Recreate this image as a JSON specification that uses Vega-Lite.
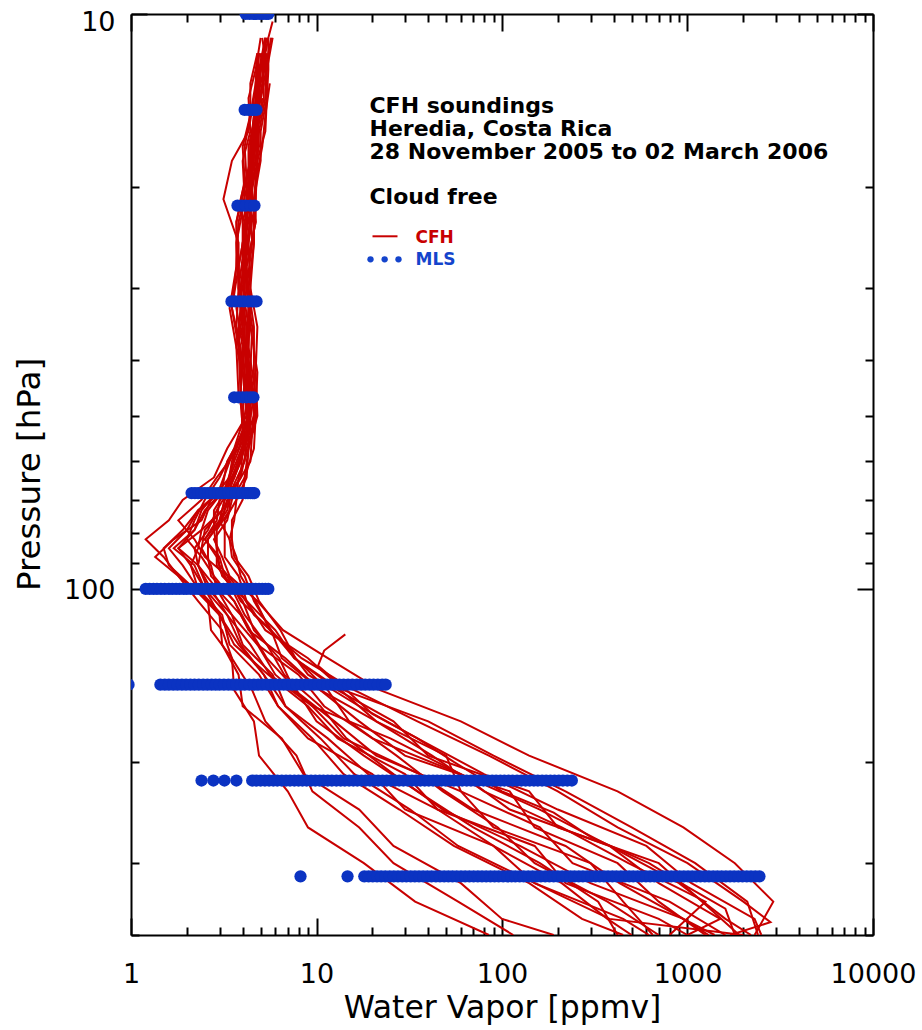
{
"$schema":"https://vega.github.io/schema/vega-lite/v6.json",
"width":742,"height":921,
"autosize":{"type":"none"},
"padding":{"left":131,"top":14,"right":49,"bottom":95},
"background":"white",
"config":{"view":{"stroke":null},"font":"DejaVu Sans",
"axis":{"labelFont":"DejaVu Sans","titleFont":"DejaVu Sans","labelColor":"#000","titleColor":"#000","domainColor":"#000","tickColor":"#000","domainWidth":2,"tickWidth":2,"grid":false,"labelFontSize":27,"titleFontWeight":"normal","zindex":1,"labelFlush":false,"labelOverlap":false,"labelBound":false}},
"datasets":{
"cfh":[
{"id":1,"p":11,"w":5.4},{"id":1,"p":12.5,"w":5.0},{"id":1,"p":14,"w":4.9},{"id":1,"p":16,"w":4.5},{"id":1,"p":18,"w":4.4},{"id":1,"p":21,"w":3.9},{"id":1,"p":25,"w":4.1},{"id":1,"p":30,"w":3.8},{"id":1,"p":35,"w":4.1},{"id":1,"p":42,"w":4.0},{"id":1,"p":50,"w":4.2},{"id":1,"p":57,"w":3.3},{"id":1,"p":64,"w":2.8},{"id":1,"p":70,"w":1.9},{"id":1,"p":76,"w":1.6},{"id":1,"p":82,"w":1.2},{"id":1,"p":88,"w":1.5},{"id":1,"p":95,"w":1.8},{"id":1,"p":105,"w":2.6},{"id":1,"p":118,"w":2.7},{"id":1,"p":132,"w":3.5},{"id":1,"p":150,"w":3.6},{"id":1,"p":170,"w":4.6},{"id":1,"p":195,"w":4.9},{"id":1,"p":225,"w":7.0},{"id":1,"p":260,"w":9},{"id":1,"p":300,"w":18},{"id":1,"p":350,"w":34},{"id":1,"p":400,"w":85},
{"id":2,"p":11.7,"w":4.9},{"id":2,"p":13.2,"w":4.8},{"id":2,"p":15,"w":4.6},{"id":2,"p":17,"w":4.7},{"id":2,"p":19.5,"w":4.3},{"id":2,"p":23,"w":4.2},{"id":2,"p":27.5,"w":3.8},{"id":2,"p":32.5,"w":3.9},{"id":2,"p":38,"w":3.7},{"id":2,"p":46,"w":4.3},{"id":2,"p":53,"w":4.3},{"id":2,"p":60,"w":3.7},{"id":2,"p":67,"w":3.2},{"id":2,"p":73,"w":2.3},{"id":2,"p":79,"w":1.9},{"id":2,"p":85,"w":1.5},{"id":2,"p":91,"w":1.6},{"id":2,"p":100,"w":2.2},{"id":2,"p":111,"w":3.0},{"id":2,"p":125,"w":3.6},{"id":2,"p":141,"w":5.5},{"id":2,"p":160,"w":9},{"id":2,"p":182,"w":13},{"id":2,"p":210,"w":30},{"id":2,"p":242,"w":45},{"id":2,"p":280,"w":150},{"id":2,"p":325,"w":220},{"id":2,"p":375,"w":700},{"id":2,"p":400,"w":1000},
{"id":3,"p":11,"w":5.7},{"id":3,"p":12.5,"w":5.3},{"id":3,"p":14,"w":5.3},{"id":3,"p":16,"w":4.9},{"id":3,"p":18,"w":4.8},{"id":3,"p":21,"w":4.6},{"id":3,"p":25,"w":4.6},{"id":3,"p":30,"w":4.3},{"id":3,"p":35,"w":4.6},{"id":3,"p":42,"w":4.6},{"id":3,"p":50,"w":4.7},{"id":3,"p":57,"w":4.2},{"id":3,"p":64,"w":3.9},{"id":3,"p":70,"w":3.2},{"id":3,"p":76,"w":3.0},{"id":3,"p":82,"w":2.5},{"id":3,"p":88,"w":2.9},{"id":3,"p":95,"w":3.1},{"id":3,"p":105,"w":4.2},{"id":3,"p":118,"w":5.3},{"id":3,"p":132,"w":9},{"id":3,"p":150,"w":14},{"id":3,"p":170,"w":40},{"id":3,"p":195,"w":90},{"id":3,"p":225,"w":220},{"id":3,"p":260,"w":500},{"id":3,"p":300,"w":1100},{"id":3,"p":350,"w":2100},{"id":3,"p":400,"w":2400},
{"id":4,"p":11.7,"w":4.8},{"id":4,"p":13.2,"w":4.7},{"id":4,"p":15,"w":4.4},{"id":4,"p":17,"w":4.1},{"id":4,"p":19.5,"w":4.2},{"id":4,"p":23,"w":3.7},{"id":4,"p":27.5,"w":3.8},{"id":4,"p":32.5,"w":3.5},{"id":4,"p":38,"w":3.8},{"id":4,"p":46,"w":3.9},{"id":4,"p":53,"w":4.1},{"id":4,"p":60,"w":3.3},{"id":4,"p":67,"w":3.1},{"id":4,"p":73,"w":2.3},{"id":4,"p":79,"w":2.0},{"id":4,"p":85,"w":1.6},{"id":4,"p":91,"w":1.9},{"id":4,"p":100,"w":2.3},{"id":4,"p":111,"w":3.1},{"id":4,"p":125,"w":3.4},{"id":4,"p":141,"w":4.9},{"id":4,"p":160,"w":6.2},{"id":4,"p":182,"w":9},{"id":4,"p":210,"w":20},{"id":4,"p":242,"w":30},{"id":4,"p":280,"w":90},{"id":4,"p":325,"w":150},{"id":4,"p":375,"w":450},{"id":4,"p":400,"w":620},
{"id":5,"p":11,"w":5.1},{"id":5,"p":12.5,"w":5.4},{"id":5,"p":14,"w":4.9},{"id":5,"p":16,"w":4.8},{"id":5,"p":18,"w":4.5},{"id":5,"p":21,"w":4.5},{"id":5,"p":25,"w":4.1},{"id":5,"p":30,"w":4.2},{"id":5,"p":35,"w":3.9},{"id":5,"p":42,"w":4.3},{"id":5,"p":50,"w":4.3},{"id":5,"p":57,"w":4.3},{"id":5,"p":64,"w":3.8},{"id":5,"p":70,"w":3.7},{"id":5,"p":76,"w":3.2},{"id":5,"p":82,"w":3.2},{"id":5,"p":88,"w":3.2},{"id":5,"p":95,"w":3.8},{"id":5,"p":105,"w":4.2},{"id":5,"p":118,"w":6.0},{"id":5,"p":132,"w":7.6},{"id":5,"p":150,"w":13},{"id":5,"p":170,"w":26},{"id":5,"p":195,"w":40},{"id":5,"p":225,"w":140},{"id":5,"p":260,"w":200},{"id":5,"p":300,"w":700},{"id":5,"p":350,"w":1200},{"id":5,"p":400,"w":1900},
{"id":6,"p":11.7,"w":5.2},{"id":6,"p":13.2,"w":4.8},{"id":6,"p":15,"w":4.7},{"id":6,"p":17,"w":4.3},{"id":6,"p":19.5,"w":4.3},{"id":6,"p":23,"w":3.8},{"id":6,"p":27.5,"w":3.7},{"id":6,"p":32.5,"w":3.4},{"id":6,"p":38,"w":3.7},{"id":6,"p":46,"w":3.8},{"id":6,"p":53,"w":4.2},{"id":6,"p":60,"w":3.6},{"id":6,"p":67,"w":3.2},{"id":6,"p":73,"w":2.6},{"id":6,"p":79,"w":2.4},{"id":6,"p":85,"w":1.8},{"id":6,"p":91,"w":2.1},{"id":6,"p":100,"w":2.3},{"id":6,"p":111,"w":3.0},{"id":6,"p":125,"w":3.1},{"id":6,"p":141,"w":3.8},{"id":6,"p":160,"w":4.0},{"id":6,"p":182,"w":6.5},{"id":6,"p":210,"w":8.5},{"id":6,"p":242,"w":17},{"id":6,"p":280,"w":26},{"id":6,"p":325,"w":60},{"id":6,"p":375,"w":100},{"id":6,"p":400,"w":190},
{"id":7,"p":11,"w":5.8},{"id":7,"p":12.5,"w":5.4},{"id":7,"p":14,"w":5.4},{"id":7,"p":16,"w":5.0},{"id":7,"p":18,"w":5.0},{"id":7,"p":21,"w":4.6},{"id":7,"p":25,"w":4.6},{"id":7,"p":30,"w":4.4},{"id":7,"p":35,"w":4.8},{"id":7,"p":42,"w":4.7},{"id":7,"p":50,"w":4.8},{"id":7,"p":57,"w":4.3},{"id":7,"p":64,"w":4.1},{"id":7,"p":70,"w":3.5},{"id":7,"p":76,"w":3.3},{"id":7,"p":82,"w":2.8},{"id":7,"p":88,"w":3.1},{"id":7,"p":95,"w":3.4},{"id":7,"p":105,"w":4.8},{"id":7,"p":118,"w":6.6},{"id":7,"p":132,"w":11.5},{"id":7,"p":150,"w":22},{"id":7,"p":170,"w":60},{"id":7,"p":195,"w":140},{"id":7,"p":225,"w":420},{"id":7,"p":260,"w":950},{"id":7,"p":300,"w":1800},{"id":7,"p":350,"w":2900},{"id":7,"p":400,"w":2300},
{"id":8,"p":13.2,"w":4.8},{"id":8,"p":15,"w":4.6},{"id":8,"p":17,"w":4.4},{"id":8,"p":19.5,"w":4.3},{"id":8,"p":23,"w":4.7},{"id":8,"p":27.5,"w":4.2},{"id":8,"p":32.5,"w":4.3},{"id":8,"p":38,"w":4.2},{"id":8,"p":46,"w":4.5},{"id":8,"p":53,"w":4.2},{"id":8,"p":60,"w":3.9},{"id":8,"p":67,"w":3.3},{"id":8,"p":73,"w":3.1},{"id":8,"p":79,"w":2.5},{"id":8,"p":85,"w":2.4},{"id":8,"p":91,"w":2.3},{"id":8,"p":100,"w":2.9},{"id":8,"p":111,"w":3.5},{"id":8,"p":125,"w":4.8},{"id":8,"p":141,"w":6.0},{"id":8,"p":160,"w":9.5},{"id":8,"p":182,"w":14},{"id":8,"p":210,"w":36},{"id":8,"p":242,"w":70},{"id":8,"p":280,"w":220},{"id":8,"p":325,"w":430},{"id":8,"p":375,"w":950},{"id":8,"p":400,"w":1400},
{"id":9,"p":11,"w":5.3},{"id":9,"p":12.5,"w":5.0},{"id":9,"p":14,"w":4.6},{"id":9,"p":16,"w":4.3},{"id":9,"p":18,"w":3.5},{"id":9,"p":21,"w":3.15},{"id":9,"p":25,"w":3.8},{"id":9,"p":30,"w":3.8},{"id":9,"p":35,"w":4.2},{"id":9,"p":42,"w":4.2},{"id":9,"p":50,"w":4.3},{"id":9,"p":57,"w":3.7},{"id":9,"p":64,"w":3.4},{"id":9,"p":70,"w":2.7},{"id":9,"p":76,"w":2.4},{"id":9,"p":82,"w":1.7},{"id":9,"p":88,"w":1.35},{"id":9,"p":95,"w":1.8},{"id":9,"p":105,"w":2.3},{"id":9,"p":118,"w":3.1},{"id":9,"p":132,"w":3.5},{"id":9,"p":150,"w":4.5},{"id":9,"p":170,"w":5.3},{"id":9,"p":195,"w":7.8},{"id":9,"p":225,"w":9.5},{"id":9,"p":260,"w":17},{"id":9,"p":300,"w":26},{"id":9,"p":350,"w":58},{"id":9,"p":400,"w":115},
{"id":10,"p":11.7,"w":4.9},{"id":10,"p":13.2,"w":4.7},{"id":10,"p":15,"w":4.7},{"id":10,"p":17,"w":4.4},{"id":10,"p":19.5,"w":4.4},{"id":10,"p":23,"w":4.1},{"id":10,"p":27.5,"w":4.1},{"id":10,"p":32.5,"w":3.7},{"id":10,"p":38,"w":4.0},{"id":10,"p":46,"w":3.9},{"id":10,"p":53,"w":4.0},{"id":10,"p":60,"w":3.5},{"id":10,"p":67,"w":3.3},{"id":10,"p":73,"w":2.8},{"id":10,"p":79,"w":2.8},{"id":10,"p":85,"w":2.4},{"id":10,"p":91,"w":2.7},{"id":10,"p":100,"w":2.9},{"id":10,"p":111,"w":3.9},{"id":10,"p":125,"w":4.8},{"id":10,"p":141,"w":8},{"id":10,"p":160,"w":11},{"id":10,"p":182,"w":20},{"id":10,"p":210,"w":60},{"id":10,"p":242,"w":110},{"id":10,"p":280,"w":380},{"id":10,"p":325,"w":700},{"id":10,"p":375,"w":1500},{"id":10,"p":400,"w":1000},
{"id":11,"p":11,"w":5.5},{"id":11,"p":12.5,"w":5.1},{"id":11,"p":14,"w":5.2},{"id":11,"p":16,"w":4.8},{"id":11,"p":18,"w":4.7},{"id":11,"p":21,"w":4.4},{"id":11,"p":25,"w":4.5},{"id":11,"p":30,"w":4.2},{"id":11,"p":35,"w":4.5},{"id":11,"p":42,"w":4.4},{"id":11,"p":50,"w":4.6},{"id":11,"p":57,"w":4.0},{"id":11,"p":64,"w":3.6},{"id":11,"p":70,"w":3.0},{"id":11,"p":76,"w":2.9},{"id":11,"p":82,"w":2.5},{"id":11,"p":88,"w":3.0},{"id":11,"p":95,"w":3.2},{"id":11,"p":105,"w":4.0},{"id":11,"p":118,"w":4.6},{"id":11,"p":132,"w":6.3},{"id":11,"p":150,"w":7.6},{"id":11,"p":170,"w":12.5},{"id":11,"p":195,"w":21},{"id":11,"p":225,"w":60},{"id":11,"p":260,"w":90},{"id":11,"p":300,"w":300},{"id":11,"p":350,"w":450},{"id":11,"p":400,"w":650},
{"id":12,"p":13.2,"w":5.2},{"id":12,"p":15,"w":4.8},{"id":12,"p":17,"w":4.9},{"id":12,"p":19.5,"w":4.4},{"id":12,"p":23,"w":4.4},{"id":12,"p":27.5,"w":4.0},{"id":12,"p":32.5,"w":4.1},{"id":12,"p":38,"w":4.1},{"id":12,"p":46,"w":4.5},{"id":12,"p":53,"w":4.1},{"id":12,"p":60,"w":3.9},{"id":12,"p":67,"w":3.4},{"id":12,"p":73,"w":3.4},{"id":12,"p":79,"w":2.9},{"id":12,"p":85,"w":2.9},{"id":12,"p":91,"w":3.0},{"id":12,"p":100,"w":3.8},{"id":12,"p":111,"w":4.6},{"id":12,"p":125,"w":6.8},{"id":12,"p":141,"w":9},{"id":12,"p":160,"w":17},{"id":12,"p":182,"w":35},{"id":12,"p":210,"w":80},{"id":12,"p":242,"w":200},{"id":12,"p":280,"w":600},{"id":12,"p":325,"w":1050},{"id":12,"p":375,"w":2300},{"id":12,"p":400,"w":2500},
{"id":13,"p":11,"w":5.0},{"id":13,"p":12.5,"w":4.7},{"id":13,"p":14,"w":4.3},{"id":13,"p":16,"w":4.4},{"id":13,"p":18,"w":4.0},{"id":13,"p":21,"w":4.1},{"id":13,"p":25,"w":3.7},{"id":13,"p":30,"w":3.8},{"id":13,"p":35,"w":3.7},{"id":13,"p":42,"w":4.1},{"id":13,"p":50,"w":4.0},{"id":13,"p":57,"w":4.0},{"id":13,"p":64,"w":3.5},{"id":13,"p":70,"w":3.4},{"id":13,"p":76,"w":3.0},{"id":13,"p":82,"w":3.4},{"id":13,"p":88,"w":3.5},{"id":13,"p":95,"w":4.1},{"id":13,"p":105,"w":4.6},{"id":13,"p":118,"w":5.7},{"id":13,"p":132,"w":6.5},{"id":13,"p":150,"w":10.5},{"id":13,"p":170,"w":17},{"id":13,"p":195,"w":30},{"id":13,"p":225,"w":110},{"id":13,"p":260,"w":150},{"id":13,"p":300,"w":420},{"id":13,"p":350,"w":700},{"id":13,"p":400,"w":1250},
{"id":14,"p":120,"w":14.3},{"id":14,"p":128,"w":11},{"id":14,"p":136,"w":10.2},{"id":14,"p":150,"w":14.5},{"id":14,"p":165,"w":20},{"id":14,"p":182,"w":35},{"id":14,"p":200,"w":55},{"id":14,"p":225,"w":100},{"id":14,"p":245,"w":190},{"id":14,"p":270,"w":300},{"id":14,"p":300,"w":620},{"id":14,"p":330,"w":1000},{"id":14,"p":360,"w":1600},{"id":14,"p":400,"w":1800},
{"id":15,"p":11.7,"w":5.4},{"id":15,"p":13.2,"w":5.1},{"id":15,"p":15,"w":4.8},{"id":15,"p":17,"w":4.7},{"id":15,"p":19.5,"w":4.4},{"id":15,"p":23,"w":4.4},{"id":15,"p":27.5,"w":4.1},{"id":15,"p":32.5,"w":4.3},{"id":15,"p":38,"w":4.2},{"id":15,"p":46,"w":4.6},{"id":15,"p":53,"w":4.3},{"id":15,"p":60,"w":3.9},{"id":15,"p":67,"w":3.2},{"id":15,"p":73,"w":2.5},{"id":15,"p":79,"w":2.2},{"id":15,"p":85,"w":1.8},{"id":15,"p":91,"w":2.3},{"id":15,"p":100,"w":2.6},{"id":15,"p":111,"w":3.5},{"id":15,"p":125,"w":4.0},{"id":15,"p":141,"w":5.8},{"id":15,"p":160,"w":6.8},{"id":15,"p":182,"w":11.5},{"id":15,"p":210,"w":19},{"id":15,"p":242,"w":45},{"id":15,"p":280,"w":90},{"id":15,"p":325,"w":210},{"id":15,"p":375,"w":370},{"id":15,"p":400,"w":500},
{"id":16,"p":11,"w":5.3},{"id":16,"p":12.5,"w":4.9},{"id":16,"p":14,"w":4.9},{"id":16,"p":16,"w":4.6},{"id":16,"p":18,"w":4.6},{"id":16,"p":21,"w":4.2},{"id":16,"p":25,"w":4.2},{"id":16,"p":30,"w":3.9},{"id":16,"p":35,"w":4.2},{"id":16,"p":42,"w":4.1},{"id":16,"p":50,"w":4.4},{"id":16,"p":57,"w":4.0},{"id":16,"p":64,"w":3.9},{"id":16,"p":70,"w":3.3},{"id":16,"p":76,"w":3.1},{"id":16,"p":82,"w":2.6},{"id":16,"p":88,"w":2.6},{"id":16,"p":95,"w":2.7},{"id":16,"p":105,"w":3.6},{"id":16,"p":118,"w":4.3},{"id":16,"p":132,"w":6.8},{"id":16,"p":150,"w":10.5},{"id":16,"p":170,"w":21},{"id":16,"p":195,"w":50},{"id":16,"p":225,"w":60},{"id":16,"p":260,"w":160},{"id":16,"p":300,"w":240},{"id":16,"p":350,"w":800},{"id":16,"p":400,"w":1600},
{"id":17,"p":13.2,"w":5.6},{"id":17,"p":15,"w":5.3},{"id":17,"p":17,"w":5.1},{"id":17,"p":19.5,"w":4.7},{"id":17,"p":23,"w":4.7},{"id":17,"p":27.5,"w":4.2},{"id":17,"p":32.5,"w":4.4},{"id":17,"p":38,"w":4.3},{"id":17,"p":46,"w":4.7},{"id":17,"p":53,"w":4.5},{"id":17,"p":60,"w":4.4},{"id":17,"p":67,"w":3.6},{"id":17,"p":73,"w":3.1},{"id":17,"p":79,"w":2.4},{"id":17,"p":85,"w":2.3},{"id":17,"p":91,"w":2.1},{"id":17,"p":100,"w":2.5},{"id":17,"p":111,"w":3.0},{"id":17,"p":125,"w":3.8},{"id":17,"p":141,"w":5.2},{"id":17,"p":160,"w":6.8},{"id":17,"p":182,"w":10.5},{"id":17,"p":210,"w":16},{"id":17,"p":242,"w":32},{"id":17,"p":280,"w":58},{"id":17,"p":325,"w":150},{"id":17,"p":375,"w":380},{"id":17,"p":400,"w":2000},
{"id":18,"p":10.3,"w":5.8},{"id":18,"p":11,"w":5.5},{"id":18,"p":12.5,"w":5.5},{"id":18,"p":14,"w":5.4},{"id":18,"p":16,"w":5.3},{"id":18,"p":18,"w":4.8},{"id":18,"p":21,"w":4.7},{"id":18,"p":25,"w":4.3},{"id":18,"p":30,"w":4.4},{"id":18,"p":35,"w":4.4},{"id":18,"p":42,"w":4.8},{"id":18,"p":50,"w":4.7},{"id":18,"p":57,"w":4.6},{"id":18,"p":64,"w":4.1},{"id":18,"p":70,"w":4.0},{"id":18,"p":76,"w":3.5},{"id":18,"p":82,"w":3.5},{"id":18,"p":88,"w":3.6},{"id":18,"p":95,"w":4.3},{"id":18,"p":105,"w":4.9},{"id":18,"p":118,"w":6.4},{"id":18,"p":132,"w":7.7},{"id":18,"p":150,"w":11.5},{"id":18,"p":170,"w":15},{"id":18,"p":195,"w":27},{"id":18,"p":225,"w":48},{"id":18,"p":260,"w":95},{"id":18,"p":300,"w":150},{"id":18,"p":350,"w":370},{"id":18,"p":400,"w":700},
{"id":19,"p":11.7,"w":4.8},{"id":19,"p":13.2,"w":4.4},{"id":19,"p":15,"w":4.4},{"id":19,"p":17,"w":4.0},{"id":19,"p":19.5,"w":4.1},{"id":19,"p":23,"w":3.7},{"id":19,"p":27.5,"w":3.7},{"id":19,"p":32.5,"w":3.5},{"id":19,"p":38,"w":3.9},{"id":19,"p":46,"w":3.9},{"id":19,"p":53,"w":4.0},{"id":19,"p":60,"w":3.4},{"id":19,"p":67,"w":3.0},{"id":19,"p":73,"w":2.4},{"id":19,"p":79,"w":2.2},{"id":19,"p":85,"w":1.7},{"id":19,"p":91,"w":2.2},{"id":19,"p":100,"w":2.5},{"id":19,"p":111,"w":3.3},{"id":19,"p":125,"w":3.9},{"id":19,"p":141,"w":5.2},{"id":19,"p":160,"w":6.2},{"id":19,"p":182,"w":9.5},{"id":19,"p":210,"w":14},{"id":19,"p":242,"w":28},{"id":19,"p":280,"w":55},{"id":19,"p":325,"w":140},{"id":19,"p":375,"w":270},{"id":19,"p":400,"w":450},
{"id":20,"p":12.5,"w":4.9},{"id":20,"p":14,"w":4.8},{"id":20,"p":16,"w":4.5},{"id":20,"p":18,"w":4.5},{"id":20,"p":21,"w":4.3},{"id":20,"p":25,"w":4.1},{"id":20,"p":30,"w":4.1},{"id":20,"p":35,"w":4.0},{"id":20,"p":42,"w":4.2},{"id":20,"p":50,"w":4.3},{"id":20,"p":57,"w":3.8},{"id":20,"p":64,"w":2.9},{"id":20,"p":70,"w":2.4},{"id":20,"p":76,"w":1.8},{"id":20,"p":82,"w":2.2},{"id":20,"p":88,"w":2.5},{"id":20,"p":95,"w":3.3},{"id":20,"p":105,"w":3.9},{"id":20,"p":118,"w":5.7},{"id":20,"p":132,"w":7.6},{"id":20,"p":150,"w":13.5},{"id":20,"p":170,"w":21},{"id":20,"p":195,"w":42},{"id":20,"p":225,"w":80},{"id":20,"p":260,"w":210},{"id":20,"p":300,"w":480},{"id":20,"p":350,"w":1250},{"id":20,"p":400,"w":800},
{"id":21,"p":11.7,"w":5.0},{"id":21,"p":13.2,"w":5.2},{"id":21,"p":15,"w":4.7},{"id":21,"p":17,"w":4.6},{"id":21,"p":19.5,"w":4.2},{"id":21,"p":23,"w":4.2},{"id":21,"p":27.5,"w":3.8},{"id":21,"p":32.5,"w":3.9},{"id":21,"p":38,"w":3.8},{"id":21,"p":46,"w":4.2},{"id":21,"p":53,"w":4.2},{"id":21,"p":60,"w":4.1},{"id":21,"p":67,"w":3.5},{"id":21,"p":73,"w":3.3},{"id":21,"p":79,"w":2.8},{"id":21,"p":85,"w":2.9},{"id":21,"p":91,"w":2.9},{"id":21,"p":100,"w":3.5},{"id":21,"p":111,"w":4.1},{"id":21,"p":125,"w":5.4},{"id":21,"p":141,"w":6.7},{"id":21,"p":160,"w":10.5},{"id":21,"p":182,"w":14.5},{"id":21,"p":210,"w":26},{"id":21,"p":242,"w":48},{"id":21,"p":280,"w":125},{"id":21,"p":325,"w":300},{"id":21,"p":375,"w":950},{"id":21,"p":400,"w":1300},
{"id":22,"p":14,"w":5.1},{"id":22,"p":16,"w":4.8},{"id":22,"p":18,"w":4.8},{"id":22,"p":21,"w":4.4},{"id":22,"p":25,"w":4.3},{"id":22,"p":30,"w":4.0},{"id":22,"p":35,"w":4.3},{"id":22,"p":42,"w":4.3},{"id":22,"p":50,"w":4.7},{"id":22,"p":57,"w":4.3},{"id":22,"p":64,"w":4.2},{"id":22,"p":70,"w":3.7},{"id":22,"p":76,"w":3.6},{"id":22,"p":82,"w":3.4},{"id":22,"p":88,"w":3.7},{"id":22,"p":95,"w":3.9},{"id":22,"p":105,"w":4.7},{"id":22,"p":118,"w":5.6},{"id":22,"p":132,"w":8.3},{"id":22,"p":150,"w":16},{"id":22,"p":170,"w":35},{"id":22,"p":195,"w":85},{"id":22,"p":225,"w":200},{"id":22,"p":260,"w":420},{"id":22,"p":300,"w":1000},{"id":22,"p":350,"w":2000},{"id":22,"p":380,"w":2800},{"id":22,"p":400,"w":1700},
{"id":23,"p":11.7,"w":5.1},{"id":23,"p":13.2,"w":4.9},{"id":23,"p":15,"w":4.6},{"id":23,"p":17,"w":4.5},{"id":23,"p":19.5,"w":4.5},{"id":23,"p":23,"w":4.0},{"id":23,"p":27.5,"w":4.0},{"id":23,"p":32.5,"w":3.9},{"id":23,"p":38,"w":4.1},{"id":23,"p":46,"w":4.4},{"id":23,"p":53,"w":4.4},{"id":23,"p":60,"w":3.9},{"id":23,"p":67,"w":3.4},{"id":23,"p":73,"w":2.9},{"id":23,"p":79,"w":2.6},{"id":23,"p":85,"w":2.2},{"id":23,"p":91,"w":2.3},{"id":23,"p":100,"w":2.7},{"id":23,"p":111,"w":3.3},{"id":23,"p":125,"w":4.4},{"id":23,"p":141,"w":5.6},{"id":23,"p":160,"w":9.5},{"id":23,"p":182,"w":25},{"id":23,"p":210,"w":60},{"id":23,"p":242,"w":160},{"id":23,"p":280,"w":380},{"id":23,"p":325,"w":900},{"id":23,"p":375,"w":1600},{"id":23,"p":400,"w":2200},
{"id":24,"p":11,"w":5.3},{"id":24,"p":12.5,"w":5.2},{"id":24,"p":14,"w":4.8},{"id":24,"p":16,"w":4.7},{"id":24,"p":18,"w":4.4},{"id":24,"p":21,"w":4.4},{"id":24,"p":25,"w":4.0},{"id":24,"p":30,"w":4.1},{"id":24,"p":35,"w":4.0},{"id":24,"p":42,"w":4.4},{"id":24,"p":50,"w":4.1},{"id":24,"p":57,"w":3.6},{"id":24,"p":64,"w":3.0},{"id":24,"p":70,"w":2.5},{"id":24,"p":76,"w":2.2},{"id":24,"p":82,"w":2.0},{"id":24,"p":88,"w":2.4},{"id":24,"p":95,"w":2.8},{"id":24,"p":105,"w":3.6},{"id":24,"p":118,"w":4.4},{"id":24,"p":132,"w":5.4},{"id":24,"p":150,"w":7.8},{"id":24,"p":170,"w":10},{"id":24,"p":195,"w":18},{"id":24,"p":225,"w":35},{"id":24,"p":260,"w":70},{"id":24,"p":300,"w":160},{"id":24,"p":350,"w":330},{"id":24,"p":400,"w":420}
],
"mls":[
{"p":10,"w":4.15},{"p":10,"w":4.35},{"p":10,"w":4.55},{"p":10,"w":4.75},{"p":10,"w":4.95},{"p":10,"w":5.15},{"p":10,"w":5.35},{"p":10,"w":5.5},
{"p":14.68,"w":4.1},{"p":14.68,"w":4.3},{"p":14.68,"w":4.5},{"p":14.68,"w":4.75},
{"p":21.54,"w":3.75},{"p":21.54,"w":3.95},{"p":21.54,"w":4.15},{"p":21.54,"w":4.4},{"p":21.54,"w":4.63},
{"p":31.62,"w":3.48},{"p":31.62,"w":3.65},{"p":31.62,"w":3.85},{"p":31.62,"w":4.05},{"p":31.62,"w":4.3},{"p":31.62,"w":4.5},{"p":31.62,"w":4.75},
{"p":46.42,"w":3.6},{"p":46.42,"w":3.8},{"p":46.42,"w":4.0},{"p":46.42,"w":4.2},{"p":46.42,"w":4.4},{"p":46.42,"w":4.57},
{"p":68.13,"w":2.12},{"p":68.13,"w":2.21},{"p":68.13,"w":2.3},{"p":68.13,"w":2.4},{"p":68.13,"w":2.5},{"p":68.13,"w":2.6},{"p":68.13,"w":2.7},{"p":68.13,"w":2.82},{"p":68.13,"w":2.95},{"p":68.13,"w":3.07},{"p":68.13,"w":3.2},{"p":68.13,"w":3.35},{"p":68.13,"w":3.5},{"p":68.13,"w":3.65},{"p":68.13,"w":3.8},{"p":68.13,"w":3.97},{"p":68.13,"w":4.15},{"p":68.13,"w":4.27},{"p":68.13,"w":4.4},{"p":68.13,"w":4.51},{"p":68.13,"w":4.62},
{"p":100,"w":1.2},{"p":100,"w":1.26},{"p":100,"w":1.32},{"p":100,"w":1.38},{"p":100,"w":1.45},{"p":100,"w":1.52},{"p":100,"w":1.6},{"p":100,"w":1.67},{"p":100,"w":1.75},{"p":100,"w":1.83},{"p":100,"w":1.92},{"p":100,"w":2.0},{"p":100,"w":2.1},{"p":100,"w":2.2},{"p":100,"w":2.3},{"p":100,"w":2.4},{"p":100,"w":2.5},{"p":100,"w":2.62},{"p":100,"w":2.75},{"p":100,"w":2.87},{"p":100,"w":3.0},{"p":100,"w":3.15},{"p":100,"w":3.3},{"p":100,"w":3.45},{"p":100,"w":3.6},{"p":100,"w":3.77},{"p":100,"w":3.95},{"p":100,"w":4.12},{"p":100,"w":4.3},{"p":100,"w":4.5},{"p":100,"w":4.7},{"p":100,"w":4.9},{"p":100,"w":5.1},{"p":100,"w":5.3},{"p":100,"w":5.5},
{"p":146.78,"w":0.97},{"p":146.78,"w":1.44},{"p":146.78,"w":1.52},{"p":146.78,"w":1.6},{"p":146.78,"w":1.69},{"p":146.78,"w":1.78},{"p":146.78,"w":1.88},{"p":146.78,"w":1.98},{"p":146.78,"w":2.09},{"p":146.78,"w":2.2},{"p":146.78,"w":2.32},{"p":146.78,"w":2.45},{"p":146.78,"w":2.58},{"p":146.78,"w":2.72},{"p":146.78,"w":2.86},{"p":146.78,"w":3.0},{"p":146.78,"w":3.17},{"p":146.78,"w":3.35},{"p":146.78,"w":3.52},{"p":146.78,"w":3.7},{"p":146.78,"w":3.9},{"p":146.78,"w":4.1},{"p":146.78,"w":4.35},{"p":146.78,"w":4.6},{"p":146.78,"w":4.85},{"p":146.78,"w":5.1},{"p":146.78,"w":5.4},{"p":146.78,"w":5.7},{"p":146.78,"w":6.0},{"p":146.78,"w":6.3},{"p":146.78,"w":6.65},{"p":146.78,"w":7.0},{"p":146.78,"w":7.4},{"p":146.78,"w":7.8},{"p":146.78,"w":8.25},{"p":146.78,"w":8.7},{"p":146.78,"w":9.2},{"p":146.78,"w":9.7},{"p":146.78,"w":10.2},{"p":146.78,"w":10.8},{"p":146.78,"w":11.4},{"p":146.78,"w":12},{"p":146.78,"w":12.6},{"p":146.78,"w":13.3},{"p":146.78,"w":14},{"p":146.78,"w":14.8},{"p":146.78,"w":15.6},{"p":146.78,"w":16.5},{"p":146.78,"w":17.4},{"p":146.78,"w":18.3},{"p":146.78,"w":19.3},{"p":146.78,"w":20.3},{"p":146.78,"w":21.4},{"p":146.78,"w":22.6},{"p":146.78,"w":23.6},
{"p":215.44,"w":2.4},{"p":215.44,"w":2.78},{"p":215.44,"w":3.19},{"p":215.44,"w":3.7},{"p":215.44,"w":4.5},{"p":215.44,"w":4.75},{"p":215.44,"w":5.0},{"p":215.44,"w":5.27},{"p":215.44,"w":5.55},{"p":215.44,"w":5.85},{"p":215.44,"w":6.15},{"p":215.44,"w":6.5},{"p":215.44,"w":6.85},{"p":215.44,"w":7.2},{"p":215.44,"w":7.6},{"p":215.44,"w":8.0},{"p":215.44,"w":8.4},{"p":215.44,"w":8.85},{"p":215.44,"w":9.35},{"p":215.44,"w":9.85},{"p":215.44,"w":10.4},{"p":215.44,"w":10.9},{"p":215.44,"w":11.5},{"p":215.44,"w":12.1},{"p":215.44,"w":12.8},{"p":215.44,"w":13.5},{"p":215.44,"w":14.2},{"p":215.44,"w":15},{"p":215.44,"w":15.8},{"p":215.44,"w":16.6},{"p":215.44,"w":17.5},{"p":215.44,"w":18.4},{"p":215.44,"w":19.4},{"p":215.44,"w":20.4},{"p":215.44,"w":21.5},{"p":215.44,"w":22.7},{"p":215.44,"w":23.9},{"p":215.44,"w":25.2},{"p":215.44,"w":26.5},{"p":215.44,"w":27.9},{"p":215.44,"w":29.4},{"p":215.44,"w":31},{"p":215.44,"w":32.7},{"p":215.44,"w":34.5},{"p":215.44,"w":36.3},{"p":215.44,"w":38.3},{"p":215.44,"w":40.3},{"p":215.44,"w":42.5},{"p":215.44,"w":44.7},{"p":215.44,"w":47.1},{"p":215.44,"w":49.6},{"p":215.44,"w":52.2},{"p":215.44,"w":55},{"p":215.44,"w":58},{"p":215.44,"w":61},{"p":215.44,"w":64.5},{"p":215.44,"w":68},{"p":215.44,"w":71.5},{"p":215.44,"w":75},{"p":215.44,"w":79.5},{"p":215.44,"w":84},{"p":215.44,"w":88.5},{"p":215.44,"w":93},{"p":215.44,"w":98},{"p":215.44,"w":103},{"p":215.44,"w":108.5},{"p":215.44,"w":114},{"p":215.44,"w":120.5},{"p":215.44,"w":127},{"p":215.44,"w":134},{"p":215.44,"w":141},{"p":215.44,"w":148.5},{"p":215.44,"w":156},{"p":215.44,"w":164.5},{"p":215.44,"w":173},{"p":215.44,"w":182.5},{"p":215.44,"w":192},{"p":215.44,"w":202.5},{"p":215.44,"w":213},{"p":215.44,"w":225},{"p":215.44,"w":238},
{"p":316.23,"w":8.2},{"p":316.23,"w":14.7},{"p":316.23,"w":18.1},{"p":316.23,"w":19.1},{"p":316.23,"w":20.1},{"p":316.23,"w":21.2},{"p":316.23,"w":22.3},{"p":316.23,"w":23.5},{"p":316.23,"w":24.8},{"p":316.23,"w":26.1},{"p":316.23,"w":27.5},{"p":316.23,"w":29},{"p":316.23,"w":30.5},{"p":316.23,"w":32.2},{"p":316.23,"w":33.9},{"p":316.23,"w":35.7},{"p":316.23,"w":37.6},{"p":316.23,"w":39.6},{"p":316.23,"w":41.7},{"p":316.23,"w":44},{"p":316.23,"w":46.3},{"p":316.23,"w":48.8},{"p":316.23,"w":51.4},{"p":316.23,"w":54.1},{"p":316.23,"w":57},{"p":316.23,"w":60.1},{"p":316.23,"w":63.3},{"p":316.23,"w":66.7},{"p":316.23,"w":70.3},{"p":316.23,"w":74.1},{"p":316.23,"w":78},{"p":316.23,"w":82.2},{"p":316.23,"w":86.6},{"p":316.23,"w":91.2},{"p":316.23,"w":96},{"p":316.23,"w":101.5},{"p":316.23,"w":107},{"p":316.23,"w":112.5},{"p":316.23,"w":118},{"p":316.23,"w":124.5},{"p":316.23,"w":131},{"p":316.23,"w":138.5},{"p":316.23,"w":146},{"p":316.23,"w":154},{"p":316.23,"w":162},{"p":316.23,"w":171},{"p":316.23,"w":180},{"p":316.23,"w":190},{"p":316.23,"w":200},{"p":316.23,"w":211},{"p":316.23,"w":222},{"p":316.23,"w":234},{"p":316.23,"w":246},{"p":316.23,"w":259.5},{"p":316.23,"w":273},{"p":316.23,"w":288},{"p":316.23,"w":303},{"p":316.23,"w":319.5},{"p":316.23,"w":336},{"p":316.23,"w":354.5},{"p":316.23,"w":373},{"p":316.23,"w":393.5},{"p":316.23,"w":414},{"p":316.23,"w":437},{"p":316.23,"w":460},{"p":316.23,"w":485},{"p":316.23,"w":510},{"p":316.23,"w":538},{"p":316.23,"w":566},{"p":316.23,"w":597},{"p":316.23,"w":629},{"p":316.23,"w":663},{"p":316.23,"w":698},{"p":316.23,"w":736},{"p":316.23,"w":775},{"p":316.23,"w":817},{"p":316.23,"w":860},{"p":316.23,"w":907},{"p":316.23,"w":955},{"p":316.23,"w":1007},{"p":316.23,"w":1060},{"p":316.23,"w":1117},{"p":316.23,"w":1175},{"p":316.23,"w":1240},{"p":316.23,"w":1305},{"p":316.23,"w":1377},{"p":316.23,"w":1450},{"p":316.23,"w":1528},{"p":316.23,"w":1610},{"p":316.23,"w":1696},{"p":316.23,"w":1785},{"p":316.23,"w":1880},{"p":316.23,"w":1980},{"p":316.23,"w":2087},{"p":316.23,"w":2200},{"p":316.23,"w":2320},{"p":316.23,"w":2443}
],
"legendDots":[{"w":19.55,"p":26.71},{"w":23.3,"p":26.71},{"w":27.67,"p":26.71}]
},
"resolve":{"axis":{"x":"independent","y":"independent"}},
"layer":[
{"data":{"name":"cfh"},
 "mark":{"type":"line","color":"#c80000","strokeWidth":2,"clip":true},
 "encoding":{
  "x":{"field":"w","type":"quantitative","scale":{"type":"log","domain":[1,10000],"nice":false},
   "axis":{"orient":"bottom","values":[1,2,3,4,5,6,7,8,9,10,20,30,40,50,60,70,80,90,100,200,300,400,500,600,700,800,900,1000,2000,3000,4000,5000,6000,7000,8000,9000,10000],
    "tickSize":{"condition":{"test":"indexof([1,10,100,1000,10000],datum.value)>=0","value":-17},"value":-8},
    "labelExpr":"indexof([1,10,100,1000,10000],datum.value)>=0 ? format(datum.value,'d') : ''",
    "labelPadding":64,"labelBaseline":"alphabetic","labelAlign":"center",
    "title":"Water Vapor [ppmv]","titleFontSize":31.5,"titleX":371,"titleY":82,"titleBaseline":"alphabetic","titleAlign":"center","titleAnchor":null}},
  "y":{"field":"p","type":"quantitative","scale":{"type":"log","domain":[10,400],"reverse":true,"nice":false},
   "axis":{"orient":"left","values":[10,20,30,40,50,60,70,80,90,100,200,300,400],
    "tickSize":{"condition":{"test":"indexof([10,100],datum.value)>=0","value":-16},"value":-8},
    "labelOffset":{"condition":{"test":"datum.value==10","value":8},"value":2},
    "labelExpr":"indexof([10,100],datum.value)>=0 ? format(datum.value,'d') : ''",
    "labelPadding":32,"labelBaseline":"middle","labelAlign":"right",
    "title":"Pressure [hPa]","titleFontSize":32.5,"titleX":-92,"titleY":460,"titleBaseline":"alphabetic","titleAlign":"center","titleAngle":270,"titleAnchor":null}},
  "detail":{"field":"id","type":"nominal"},
  "order":{"field":"p","type":"quantitative"}}},
{"data":{"name":"mls"},
 "mark":{"type":"circle","color":"#0b33c2","opacity":1,"size":150,"clip":true},
 "encoding":{
  "x":{"field":"w","type":"quantitative","scale":{"type":"log","domain":[1,10000],"nice":false},
   "axis":{"orient":"top","values":[1,2,3,4,5,6,7,8,9,10,20,30,40,50,60,70,80,90,100,200,300,400,500,600,700,800,900,1000,2000,3000,4000,5000,6000,7000,8000,9000,10000],
    "tickSize":{"condition":{"test":"indexof([1,10,100,1000,10000],datum.value)>=0","value":-17},"value":-8},
    "labels":false,"title":null}},
  "y":{"field":"p","type":"quantitative","scale":{"type":"log","domain":[10,400],"reverse":true,"nice":false},
   "axis":{"orient":"right","values":[10,20,30,40,50,60,70,80,90,100,200,300,400],
    "tickSize":{"condition":{"test":"indexof([10,100],datum.value)>=0","value":-16},"value":-8},
    "labels":false,"title":null}}}},
{"data":{"values":[{}]},
 "mark":{"type":"text","text":"CFH soundings","font":"DejaVu Sans","fontSize":22,"fontWeight":"bold","align":"left","baseline":"alphabetic","color":"#000"},
 "encoding":{"x":{"datum":19.3,"type":"quantitative","axis":null},"y":{"datum":14.89,"type":"quantitative","axis":null}}},
{"data":{"values":[{}]},
 "mark":{"type":"text","text":"Heredia, Costa Rica","font":"DejaVu Sans","fontSize":22,"fontWeight":"bold","align":"left","baseline":"alphabetic","color":"#000"},
 "encoding":{"x":{"datum":19.3,"type":"quantitative","axis":null},"y":{"datum":16.32,"type":"quantitative","axis":null}}},
{"data":{"values":[{}]},
 "mark":{"type":"text","text":"28 November 2005 to 02 March 2006","font":"DejaVu Sans","fontSize":22,"fontWeight":"bold","align":"left","baseline":"alphabetic","color":"#000"},
 "encoding":{"x":{"datum":19.3,"type":"quantitative","axis":null},"y":{"datum":17.89,"type":"quantitative","axis":null}}},
{"data":{"values":[{}]},
 "mark":{"type":"text","text":"Cloud free","font":"DejaVu Sans","fontSize":22,"fontWeight":"bold","align":"left","baseline":"alphabetic","color":"#000"},
 "encoding":{"x":{"datum":19.3,"type":"quantitative","axis":null},"y":{"datum":21.43,"type":"quantitative","axis":null}}},
{"data":{"values":[{}]},
 "mark":{"type":"rule","color":"#c80000","strokeWidth":2},
 "encoding":{"x":{"datum":20.04,"type":"quantitative","axis":null},"x2":{"datum":27.33},"y":{"datum":24.36,"type":"quantitative","axis":null}}},
{"data":{"name":"legendDots"},
 "mark":{"type":"circle","color":"#1444cc","opacity":1,"size":40},
 "encoding":{"x":{"field":"w","type":"quantitative","axis":null},"y":{"field":"p","type":"quantitative","axis":null}}},
{"data":{"values":[{}]},
 "mark":{"type":"text","text":"CFH","font":"DejaVu Sans","fontSize":17,"fontWeight":"bold","align":"left","baseline":"alphabetic","color":"#c80000"},
 "encoding":{"x":{"datum":34.18,"type":"quantitative","axis":null},"y":{"datum":25.06,"type":"quantitative","axis":null}}},
{"data":{"values":[{}]},
 "mark":{"type":"text","text":"MLS","font":"DejaVu Sans","fontSize":17,"fontWeight":"bold","align":"left","baseline":"alphabetic","color":"#1444cc"},
 "encoding":{"x":{"datum":34.18,"type":"quantitative","axis":null},"y":{"datum":27.35,"type":"quantitative","axis":null}}}
]
}
